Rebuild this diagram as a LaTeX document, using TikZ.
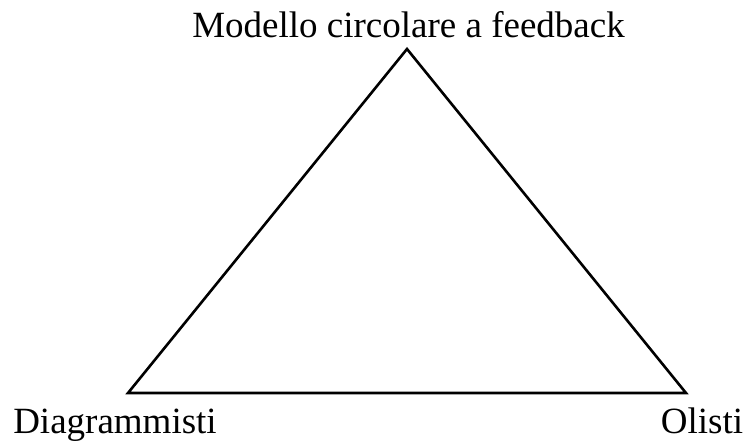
\documentclass[tikz,border=0pt]{standalone}
\usepackage{fontspec}
\setmainfont{Liberation Serif}
\begin{document}
\begin{tikzpicture}[x=1pt,y=-1pt,
  lbl/.style={anchor=base,inner sep=0pt,font=\fontsize{37}{41}\selectfont},
  tri/.style={line width=2.6pt,line join=miter}]
\useasboundingbox (0,0) rectangle (744,442);
\coordinate (T) at (407,49);
\coordinate (L) at (128,393);
\coordinate (R) at (686,393);
\draw[tri] (T) -- (L) -- (R) -- cycle;
\node[lbl] (top) at (408.5,37) {Modello circolare a feedback};
\node[lbl] (dia) at (115,433) {Diagrammisti};
\node[lbl] (oli) at (702,433) {Olisti};
\end{tikzpicture}
\end{document}
